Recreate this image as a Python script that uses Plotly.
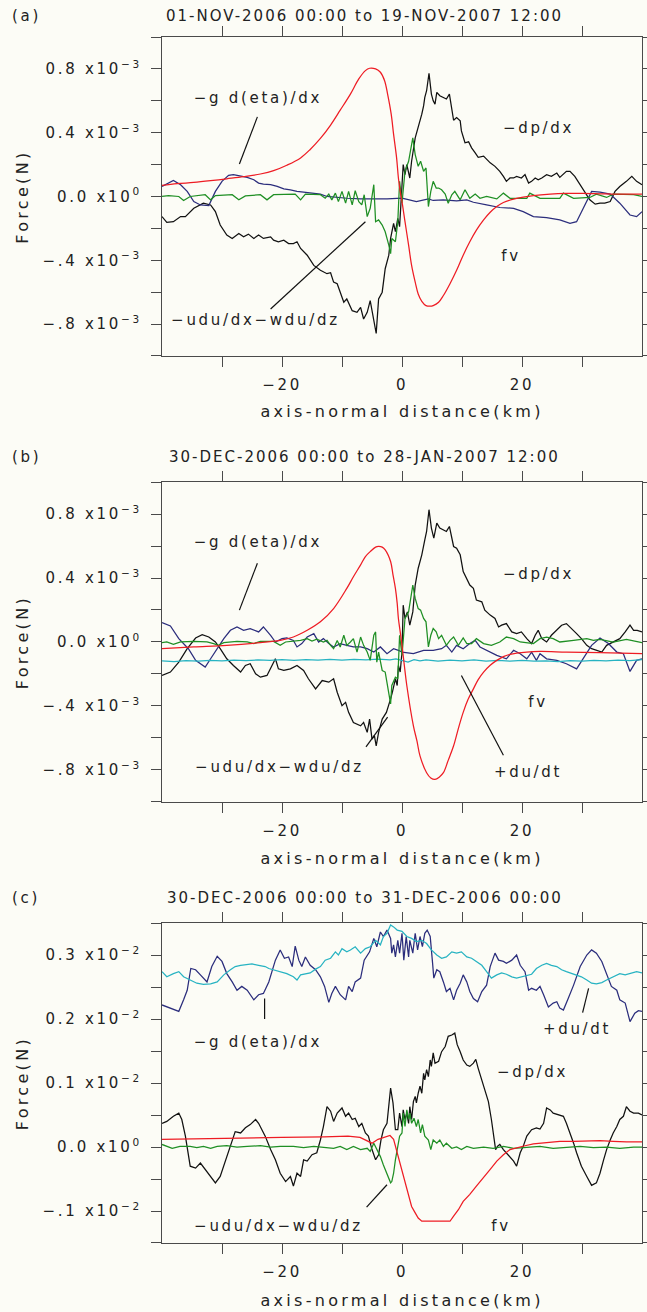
import plotly.graph_objects as go

# ---------------- DATA (x: axis-normal distance in km) ----------------
# Panel (a): values in units of 1e-3 N
a_fv = [(-40,0.069),(-37.5,0.08),(-34.7,0.088),(-31.9,0.099),(-29.2,0.111),(-26.4,0.124),(-23.6,0.141),
        (-21.4,0.162),(-19.2,0.196),(-16.9,0.242),(-15.3,0.295),(-13.6,0.364),(-11.9,0.448),(-10.3,0.541),
        (-8.6,0.642),(-7.2,0.737),(-6.1,0.789),(-5.4,0.804),(-4.4,0.8),(-3.6,0.779),(-2.9,0.726),(-2.4,0.642),
        (-1.8,0.516),(-1.4,0.389),(-0.9,0.242),(-0.6,0.116),(-0.3,0.032),(0,-0.032),(0.5,-0.158),(1.1,-0.305),
        (1.6,-0.432),(2.2,-0.537),(2.7,-0.611),(3.3,-0.657),(4.0,-0.684),(4.7,-0.688),(5.2,-0.684),(6.1,-0.663),
        (6.9,-0.621),(8.0,-0.547),(9.1,-0.463),(10.2,-0.368),(11.3,-0.284),(12.4,-0.211),(13.6,-0.147),
        (14.7,-0.099),(15.8,-0.063),(16.9,-0.038),(18.6,-0.017),(20.2,-0.004),(21.9,0.006),(24.7,0.015),
        (27.4,0.019),(30.2,0.019),(33.0,0.017),(35.8,0.015),(38.6,0.015),(40,0.015)]
a_dpdx = [(-40,-0.126),(-39.2,-0.162),(-38.1,-0.158),(-36.9,-0.126),(-36.1,-0.126),(-34.7,-0.074),(-33.1,-0.042),
          (-31.9,-0.053),(-31.1,-0.095),(-30.3,-0.179),(-29.2,-0.242),(-28.3,-0.263),(-27.2,-0.232),(-26.4,-0.253),
          (-25.6,-0.236),(-24.7,-0.263),(-23.9,-0.242),(-23.1,-0.263),(-21.9,-0.253),(-21.4,-0.274),(-20.6,-0.284),
          (-19.7,-0.274),(-18.9,-0.295),(-18.1,-0.295),(-17.5,-0.284),(-16.9,-0.326),(-15.8,-0.368),(-14.7,-0.432),
          (-13.6,-0.463),(-12.5,-0.484),(-11.9,-0.478),(-11.4,-0.537),(-10.8,-0.547),(-10.3,-0.6),(-9.7,-0.663),
          (-9.2,-0.642),(-8.3,-0.716),(-7.5,-0.726),(-6.9,-0.695),(-6.4,-0.768),(-5.8,-0.726),(-5.3,-0.653),
          (-4.7,-0.768),(-4.3,-0.859),(-3.9,-0.642),(-3.3,-0.6),(-2.8,-0.453),(-2.2,-0.368),(-1.9,-0.263),
          (-1.4,-0.168),(-1.1,-0.221),(-0.7,-0.137),(-0.4,-0.189),(-0.1,0.02),(0.2,0.2),(0.5,0.137),(0.8,0.2),
          (1.3,0.116),(1.6,0.221),(2.2,0.368),(2.7,0.432),(3.3,0.516),(3.6,0.568),(3.8,0.621),(4.1,0.663),
          (4.5,0.773),(4.9,0.642),(5.2,0.6),(5.5,0.579),(5.8,0.653),(6.3,0.632),(6.9,0.621),(7.4,0.611),
          (7.9,0.642),(8.3,0.558),(8.6,0.478),(9.1,0.495),(9.7,0.474),(9.9,0.411),(10.5,0.337),(11.1,0.343),
          (11.6,0.305),(12.2,0.274),(12.7,0.246),(13.6,0.253),(14.1,0.232),(14.7,0.211),(15.5,0.189),(16.3,0.158),
          (16.9,0.126),(17.4,0.095),(18.0,0.116),(18.6,0.116),(19.1,0.126),(19.9,0.116),(20.5,0.137),(21.1,0.084),
          (21.6,0.095),(22.2,0.116),(22.7,0.105),(23.3,0.116),(24.1,0.137),(24.9,0.126),(25.8,0.147),(26.3,0.12),
          (27.4,0.158),(28.0,0.158),(28.8,0.126),(29.7,0.074),(30.5,0.032),(31.3,-0.021),(32.2,-0.048),
          (33.0,-0.042),(33.8,-0.042),(34.7,-0.032),(35.5,0.032),(36.3,0.063),(37.4,0.095),(38.3,0.126),
          (39.1,0.095),(40,0.074)]
a_geta = [(-40,0.063),(-38.1,0.101),(-36.9,0.074),(-35.8,0.032),(-34.7,-0.032),(-33.6,-0.053),(-32.2,-0.057),
          (-31.1,0.032),(-30.0,0.095),(-28.9,0.133),(-28.1,0.137),(-26.9,0.126),(-25.8,0.12),(-24.7,0.105),
          (-23.9,0.084),(-23.1,0.078),(-21.9,0.074),(-20.8,0.063),(-19.7,0.048),(-18.6,0.042),(-17.5,0.032),
          (-16.4,0.027),(-15.3,0.021),(-13.6,0.015),(-12.5,0.0),(-10.8,-0.006),(-9.2,-0.011),(-6.9,-0.015),
          (-4.7,-0.017),(-2.5,-0.015),(0,-0.011),(2.4,-0.032),(4.4,-0.015),(5.2,-0.025),(6.9,-0.021),(9.1,-0.027),
          (10.8,-0.021),(11.9,-0.036),(14.1,-0.053),(16.3,-0.069),(18.6,-0.074),(20.2,-0.095),(21.9,-0.126),
          (24.1,-0.133),(26.3,-0.147),(28.0,-0.168),(29.1,-0.158),(30.8,-0.032),(31.6,0.032),(33.0,0.027),
          (34.7,0.015),(36.3,-0.042),(38.0,-0.116),(39.1,-0.126),(40,-0.095)]
a_adv = [(-40,0.0),(-38.9,0.006),(-37.2,0.0),(-36.4,-0.025),(-35.3,0.0),(-32.8,0.011),(-31.9,-0.021),(-31.1,0.006),
         (-28.3,0.011),(-27.2,-0.021),(-26.1,0.004),(-23.6,0.011),(-22.5,-0.021),(-21.4,0.011),(-17.8,0.015),
         (-16.9,-0.021),(-16.1,0.015),(-13.6,0.011),(-12.8,-0.011),(-12.2,0.015),(-11.7,-0.021),(-11.1,0.021),
         (-10.6,-0.032),(-10.0,0.032),(-9.4,-0.042),(-8.9,0.032),(-8.3,-0.053),(-7.8,0.036),(-7.2,-0.032),
         (-6.7,-0.053),(-6.3,0.011),(-5.8,-0.126),(-5.3,-0.074),(-4.7,0.074),(-4.4,-0.158),(-3.9,-0.147),
         (-3.3,-0.179),(-2.8,-0.221),(-2.2,-0.305),(-1.9,-0.358),(-1.7,-0.263),(-1.1,-0.284),(-0.7,-0.158),
         (-0.4,0.095),(0,-0.04),(0.5,0.158),(1.1,0.221),(1.8,0.368),(2.2,0.263),(2.7,0.189),(3.1,0.221),
         (3.6,0.158),(4.0,0.179),(4.4,-0.063),(4.8,0.032),(5.2,0.095),(5.7,0.053),(6.1,0.053),(6.6,0.042),
         (7.2,0.015),(7.7,-0.042),(8.3,0.011),(8.8,0.032),(9.7,-0.021),(10.5,0.042),(11.3,-0.011),(12.2,0.015),
         (13.0,-0.011),(14.1,0.0),(15.8,-0.015),(16.9,0.021),(18.0,-0.011),(20.8,-0.011),(21.3,0.021),
         (23.0,-0.011),(26.3,-0.011),(26.9,0.021),(28.6,-0.011),(31.3,-0.006),(32.4,0.015),(34.1,-0.006),
         (35.2,0.015),(38.6,0.011),(40,0.0)]

# Panel (b): values in units of 1e-3 N
b_fv = [(-40,-0.042),(-34.7,-0.031),(-29.2,-0.021),(-23.6,-0.004),(-20.3,0.01),(-18.1,0.031),(-15.8,0.073),
        (-13.6,0.126),(-11.4,0.209),(-9.2,0.335),(-8.1,0.408),(-6.9,0.482),(-6.1,0.534),(-5.3,0.565),
        (-4.4,0.593),(-3.9,0.597),(-3.3,0.593),(-2.8,0.576),(-1.9,0.503),(-1.5,0.419),(-1.1,0.335),(-0.8,0.241),
        (-0.6,0.147),(-0.3,0.063),(0,-0.021),(0.4,-0.15),(0.8,-0.272),(1.9,-0.524),(2.5,-0.62),(3.0,-0.712),
        (4.1,-0.817),(4.8,-0.85),(5.5,-0.859),(6.2,-0.845),(6.9,-0.817),(7.7,-0.74),(8.6,-0.649),(9.4,-0.54),
        (10.2,-0.44),(11.0,-0.36),(11.9,-0.293),(12.7,-0.235),(13.6,-0.188),(14.7,-0.145),(15.8,-0.115),
        (17.0,-0.09),(18.0,-0.077),(20.8,-0.063),(23.0,-0.059),(27.4,-0.063),(33.0,-0.067),(40,-0.073)]
b_dpdx = [(-40,-0.209),(-38.6,-0.188),(-37.2,-0.126),(-35.8,-0.042),(-34.4,0.025),(-33.3,0.046),(-32.2,0.031),
          (-31.1,0.0),(-30.3,-0.042),(-29.2,-0.105),(-28.1,-0.147),(-26.9,-0.188),(-26.1,-0.147),(-25.3,-0.136),
          (-24.4,-0.199),(-23.6,-0.22),(-22.5,-0.209),(-21.1,-0.105),(-20.6,-0.168),(-19.7,-0.178),(-18.6,-0.168),
          (-17.5,-0.147),(-16.4,-0.178),(-15.6,-0.23),(-14.4,-0.293),(-13.3,-0.241),(-12.2,-0.251),(-11.4,-0.23),
          (-10.8,-0.314),(-10.0,-0.398),(-9.4,-0.377),(-8.9,-0.44),(-8.1,-0.503),(-7.5,-0.513),(-6.9,-0.524),
          (-6.4,-0.503),(-5.8,-0.565),(-5.4,-0.482),(-5.0,-0.607),(-4.6,-0.586),(-4.3,-0.649),(-3.9,-0.565),
          (-3.3,-0.482),(-2.6,-0.44),(-2.2,-0.398),(-1.9,-0.356),(-1.6,-0.314),(-1.1,-0.23),(-0.8,-0.272),
          (-0.6,-0.147),(-0.3,-0.188),(0,-0.063),(0.2,0.23),(0.5,0.147),(0.9,0.188),(1.3,0.105),(1.8,0.188),
          (2.2,0.356),(2.7,0.461),(3.3,0.545),(3.8,0.639),(4.1,0.691),(4.5,0.827),(4.9,0.712),(5.3,0.649),
          (5.8,0.743),(6.3,0.712),(6.9,0.702),(7.4,0.691),(7.9,0.722),(8.3,0.66),(8.6,0.597),(9.1,0.586),
          (9.7,0.545),(10.2,0.44),(10.8,0.398),(11.3,0.356),(11.9,0.335),(12.4,0.262),(13.3,0.251),(13.8,0.199),
          (14.7,0.168),(15.5,0.147),(16.1,0.094),(16.6,0.105),(17.4,0.115),(18.3,0.063),(19.1,0.052),(19.9,0.063),
          (20.8,0.021),(21.6,-0.01),(22.2,0.042),(22.7,0.073),(23.3,0.021),(24.1,0.0),(24.9,0.042),(25.8,0.073),
          (26.6,0.105),(27.4,0.115),(28.3,0.084),(29.1,0.052),(29.9,0.021),(30.8,-0.021),(31.6,-0.042),
          (32.4,-0.052),(33.3,-0.063),(34.1,-0.021),(35.2,0.0),(36.3,0.021),(37.2,0.063),(38.0,0.105),
          (38.6,0.073),(39.2,0.073),(40,0.063)]
b_geta = [(-40,0.121),(-38.6,0.1),(-37.2,0.021),(-35.6,-0.042),(-34.4,-0.115),(-32.8,-0.157),(-31.9,-0.105),
          (-30.8,-0.042),(-29.7,0.021),(-28.6,0.073),(-27.5,0.094),(-26.4,0.073),(-25.3,0.084),(-23.9,0.063),
          (-23.1,0.094),(-21.9,0.042),(-21.1,0.0),(-20.0,0.021),(-19.2,0.025),(-18.1,0.01),(-17.5,-0.031),
          (-16.7,-0.01),(-15.8,0.031),(-14.7,0.052),(-13.9,0.0),(-13.1,0.021),(-12.2,-0.01),(-11.4,-0.031),
          (-10.3,-0.01),(-9.2,-0.021),(-8.1,-0.031),(-6.9,-0.031),(-5.8,-0.042),(-4.7,-0.063),(-3.6,-0.031),
          (-2.5,-0.073),(-1.4,-0.042),(-0.6,-0.052),(0,-0.063),(1.9,-0.073),(3.6,-0.052),(5.2,-0.052),
          (6.6,-0.042),(7.4,-0.021),(8.3,-0.063),(9.1,-0.021),(10.2,-0.042),(11.3,-0.01),(12.2,0.01),(13.0,-0.031),
          (14.1,-0.052),(15.8,-0.084),(17.4,-0.105),(18.6,-0.052),(19.7,-0.073),(20.8,-0.105),(21.6,-0.063),
          (22.4,-0.115),(23.0,-0.073),(24.1,-0.105),(25.8,-0.115),(27.4,-0.136),(29.1,-0.168),(30.2,-0.105),
          (31.6,-0.021),(33.0,0.025),(34.4,-0.01),(35.8,-0.063),(36.9,-0.073),(38.0,-0.184),(39.1,-0.115),
          (40,-0.105)]
b_adv = [(-40,-0.004),(-39.2,0.0),(-38.1,-0.015),(-36.9,0.0),(-34.7,0.004),(-32.5,0.0),(-31.4,-0.01),
         (-30.6,-0.021),(-29.7,-0.004),(-27.5,0.004),(-25.8,0.0),(-24.7,-0.01),(-23.6,0.004),(-21.4,0.004),
         (-20.3,-0.021),(-19.4,0.0),(-16.9,0.01),(-15.8,0.021),(-15.0,0.006),(-14.2,0.017),(-13.1,0.0),
         (-12.5,0.01),(-11.9,-0.021),(-11.4,-0.042),(-10.8,0.01),(-10.3,-0.031),(-9.7,0.042),(-9.2,-0.021),
         (-8.6,0.0),(-8.1,0.021),(-7.5,-0.063),(-6.9,0.031),(-6.4,-0.021),(-5.8,-0.063),(-5.3,-0.115),
         (-4.7,0.042),(-4.4,0.063),(-4.2,-0.126),(-3.9,-0.063),(-3.3,-0.178),(-2.8,-0.188),(-2.2,-0.314),
         (-1.9,-0.387),(-1.7,-0.272),(-1.1,-0.22),(-0.7,-0.23),(-0.4,0.042),(0,-0.084),(0.5,0.147),(1.1,0.188),
         (1.8,0.356),(2.2,0.272),(2.7,0.209),(3.1,0.199),(3.6,0.147),(4.0,0.126),(4.4,-0.031),(4.8,0.042),
         (5.2,0.084),(5.7,0.063),(6.1,0.021),(6.6,0.042),(7.4,-0.021),(8.0,0.01),(8.6,0.031),(9.4,-0.021),
         (10.2,0.025),(10.8,-0.01),(11.6,-0.01),(12.4,0.021),(13.6,-0.01),(14.9,-0.021),(16.3,0.0),(17.4,0.031),
         (18.6,0.021),(19.7,0.0),(20.8,-0.006),(21.9,-0.01),(23.0,0.021),(24.1,0.031),(25.2,0.021),(26.3,0.0),
         (28.6,0.01),(30.8,0.021),(31.9,0.01),(33.0,0.017),(35.2,0.0),(37.4,0.017),(40,-0.004)]
b_dudt = [(-40,-0.118),(-38,-0.122),(-36,-0.117),(-34,-0.12),(-32,-0.115),(-30,-0.118),(-28,-0.113),(-26,-0.117),
          (-24,-0.112),(-22,-0.115),(-20,-0.11),(-18,-0.115),(-16,-0.11),(-14,-0.114),(-12,-0.108),(-10,-0.113),
          (-8,-0.108),(-6,-0.112),(-4,-0.107),(-2,-0.112),(-1,-0.105),(0,-0.113),(1,-0.125),(2,-0.11),
          (3,-0.118),(4,-0.112),(6,-0.12),(8,-0.113),(10,-0.118),(12,-0.112),(14,-0.12),(16,-0.115),(18,-0.12),
          (20,-0.115),(22,-0.12),(24,-0.118),(26,-0.122),(28,-0.117),(30,-0.12),(32,-0.115),(34,-0.118),
          (36,-0.113),(38,-0.117),(40,-0.11)]

# Panel (c): values in units of 1e-2 N
c_fv = [(-40,0.012),(-30,0.014),(-20,0.015),(-13,0.016),(-9,0.017),(-7,0.015),(-5.5,0.008),(-5,0.006),
        (-4,0.012),(-3,0.015),(-2,0.018),(-1.4,0.012),(-0.8,-0.009),(-0.3,-0.03),(0,-0.04),(0.5,-0.056),
        (1.1,-0.077),(1.6,-0.093),(2.2,-0.103),(2.7,-0.111),(3.3,-0.116),(3.8,-0.116),(4.7,-0.115),(5.8,-0.116),
        (6.9,-0.116),(8.0,-0.116),(8.6,-0.108),(9.4,-0.098),(10.2,-0.085),(11.3,-0.074),(12.4,-0.061),
        (13.6,-0.048),(14.7,-0.035),(15.8,-0.022),(16.9,-0.012),(18.0,-0.004),(19.1,-0.001),(20.5,0.002),
        (21.9,0.005),(24.1,0.007),(26.3,0.009),(28.6,0.009),(30.8,0.01),(33.0,0.01),(35.2,0.009),(37.4,0.008),
        (40,0.008)]
c_dpdx = [(-40,0.037),(-39.2,0.04),(-38.1,0.048),(-37.2,0.053),(-36.7,0.043),(-36.1,0.017),(-35.3,-0.03),
          (-34.4,-0.033),(-33.6,-0.025),(-32.8,-0.035),(-31.9,-0.046),(-31.1,-0.056),(-30.3,-0.046),(-29.4,-0.02),
          (-28.6,0.001),(-27.8,0.024),(-26.9,0.022),(-26.1,0.03),(-25.3,0.035),(-24.4,0.043),(-23.9,0.037),
          (-23.3,0.027),(-22.8,0.017),(-21.9,-0.004),(-21.1,-0.02),(-20.3,-0.041),(-19.4,-0.054),(-18.6,-0.046),
          (-18.1,-0.061),(-17.5,-0.041),(-16.9,-0.046),(-16.4,-0.02),(-15.8,-0.022),(-15.0,-0.012),(-14.2,-0.009),
          (-13.6,0.011),(-13.1,0.032),(-12.5,0.063),(-11.9,0.056),(-11.4,0.04),(-10.8,0.053),(-10.0,0.061),
          (-9.4,0.048),(-8.9,0.053),(-8.3,0.043),(-7.8,0.045),(-7.2,0.032),(-6.7,0.037),(-6.1,0.022),(-5.6,0.017),
          (-5.0,-0.004),(-4.4,-0.02),(-3.9,-0.012),(-3.5,0.011),(-3.1,0.027),(-2.5,0.037),(-1.9,0.092),
          (-1.5,0.069),(-1.1,0.027),(-0.7,0.027),(-0.4,0.053),(0,0.032),(0.2,0.058),(0.5,0.043),(0.8,0.053),
          (1.1,0.037),(1.3,0.063),(1.6,0.043),(1.9,0.071),(2.2,0.079),(2.4,0.069),(2.7,0.084),(3.0,0.095),
          (3.3,0.084),(3.6,0.115),(3.8,0.105),(4.1,0.121),(4.4,0.11),(4.7,0.136),(4.9,0.126),(5.2,0.147),
          (5.5,0.131),(6.1,0.134),(6.6,0.149),(7.2,0.157),(7.7,0.173),(8.3,0.175),(8.8,0.178),(9.2,0.16),
          (9.7,0.149),(10.2,0.136),(10.8,0.128),(11.3,0.126),(11.9,0.131),(12.3,0.137),(12.7,0.123),(13.3,0.105),
          (13.8,0.089),(14.4,0.071),(14.9,0.043),(15.3,0.014),(15.6,-0.004),(15.9,0.001),(16.3,0.004),
          (16.9,-0.004),(17.4,-0.009),(18.0,-0.015),(18.6,-0.022),(19.1,-0.03),(19.7,-0.009),(20.2,0.001),
          (20.8,0.017),(21.6,0.027),(22.4,0.03),(23.0,0.028),(23.6,0.037),(24.1,0.061),(24.7,0.058),(25.2,0.053),
          (26.1,0.05),(26.9,0.048),(27.4,0.037),(28.0,0.022),(28.6,0.006),(29.1,-0.009),(29.9,-0.03),
          (30.8,-0.046),(31.6,-0.06),(32.4,-0.056),(33.0,-0.041),(33.6,-0.02),(34.1,-0.004),(34.7,0.011),
          (35.2,0.022),(35.8,0.032),(36.3,0.043),(36.9,0.048),(37.4,0.063),(38.0,0.056),(38.6,0.053),
          (39.4,0.053),(40,0.05)]
c_geta = [(-40,0.222),(-38.6,0.217),(-37.2,0.212),(-36.4,0.23),(-35.8,0.245),(-35.2,0.279),(-34.4,0.277),
          (-33.6,0.269),(-32.5,0.258),(-31.7,0.282),(-30.8,0.298),(-30.0,0.29),(-29.2,0.271),(-28.3,0.258),
          (-27.5,0.245),(-26.7,0.251),(-25.8,0.245),(-24.7,0.23),(-23.9,0.238),(-23.1,0.24),(-22.2,0.258),
          (-21.1,0.292),(-20.3,0.308),(-19.6,0.295),(-18.9,0.297),(-18.3,0.282),(-17.8,0.314),(-17.2,0.292),
          (-16.7,0.282),(-16.1,0.297),(-15.3,0.284),(-14.4,0.277),(-13.6,0.266),(-12.9,0.251),(-12.2,0.226),
          (-11.7,0.24),(-11.1,0.251),(-10.3,0.238),(-9.4,0.23),(-8.9,0.251),(-8.3,0.243),(-7.8,0.258),
          (-6.9,0.264),(-6.3,0.292),(-5.4,0.305),(-4.7,0.326),(-4.2,0.313),(-3.6,0.336),(-3.1,0.329),
          (-2.5,0.339),(-1.9,0.326),(-1.7,0.303),(-1.4,0.316),(-1.1,0.297),(-0.7,0.323),(-0.4,0.303),(0,0.334),
          (0.3,0.292),(0.7,0.329),(1.1,0.297),(1.3,0.323),(1.8,0.303),(2.2,0.334),(2.6,0.308),(3.0,0.329),
          (3.4,0.313),(3.8,0.334),(4.2,0.339),(4.7,0.329),(5.1,0.287),(5.3,0.264),(5.8,0.277),(6.3,0.274),
          (6.9,0.258),(7.4,0.243),(8.0,0.248),(8.6,0.23),(9.1,0.245),(9.7,0.256),(10.2,0.269),(10.8,0.258),
          (11.3,0.243),(11.9,0.232),(12.6,0.227),(13.3,0.243),(14.1,0.253),(14.7,0.282),(15.5,0.303),(16.1,0.292),
          (16.9,0.29),(17.4,0.287),(18.3,0.292),(19.1,0.3),(19.7,0.284),(20.5,0.274),(21.1,0.245),(21.6,0.248),
          (22.4,0.245),(23.0,0.251),(23.6,0.238),(24.4,0.219),(25.2,0.225),(25.8,0.227),(26.3,0.217),
          (26.9,0.214),(27.7,0.232),(28.6,0.253),(29.7,0.282),(30.8,0.3),(31.6,0.308),(32.4,0.303),(33.3,0.29),
          (34.1,0.271),(34.9,0.251),(35.8,0.245),(36.3,0.23),(37.2,0.225),(38.0,0.196),(38.8,0.209),(39.4,0.213),
          (40,0.212)]
c_adv = [(-40,0.004),(-39.2,0.001),(-38.3,-0.002),(-37.0,0.001),(-35.3,0.001),(-34.2,-0.001),(-33.1,0.001),
         (-31.9,-0.002),(-30.8,0.001),(-29.2,0.002),(-27.5,0.0),(-25.8,0.001),(-23.6,0.002),(-21.9,0.0),
         (-20.3,0.001),(-18.1,0.001),(-16.4,-0.001),(-14.7,0.001),(-13.1,0.0),(-11.4,-0.002),(-10.3,0.001),
         (-9.2,-0.004),(-8.1,0.001),(-6.9,-0.004),(-5.8,-0.002),(-5.3,-0.007),(-4.7,0.006),(-4.2,-0.004),
         (-3.6,-0.015),(-3.1,-0.028),(-2.5,-0.041),(-1.9,-0.056),(-1.7,-0.054),(-1.4,-0.041),(-1.1,-0.02),
         (-0.7,0.001),(-0.4,0.017),(0,0.022),(0.2,0.053),(0.5,0.032),(0.8,0.058),(1.1,0.043),(1.3,0.053),
         (1.6,0.037),(2.0,0.045),(2.4,0.032),(2.7,0.043),(3.1,0.022),(3.4,0.035),(3.8,0.017),(4.4,0.011),
         (4.8,-0.004),(5.2,0.011),(5.8,0.006),(6.3,0.011),(6.9,0.001),(7.4,0.006),(8.3,-0.002),(9.1,0.0),
         (9.9,-0.004),(10.8,0.001),(11.9,-0.002),(13.6,0.0),(15.2,-0.002),(16.9,0.001),(18.6,-0.002),
         (20.8,0.0),(23.0,0.001),(25.2,-0.002),(27.4,0.0),(29.7,0.001),(31.9,-0.001),(34.1,0.0),(36.3,-0.002),
         (38.6,0.0),(40,0.0)]
c_dudt = [(-40,0.274),(-39.2,0.266),(-38.1,0.271),(-37.2,0.274),(-36.4,0.266),(-35.3,0.261),(-34.2,0.256),
          (-33.1,0.254),(-31.9,0.255),(-30.8,0.258),(-29.7,0.269),(-28.6,0.277),(-27.8,0.282),(-26.9,0.284),
          (-26.1,0.285),(-25.0,0.286),(-23.9,0.284),(-22.8,0.282),(-22.2,0.279),(-21.4,0.277),(-20.3,0.274),
          (-19.2,0.271),(-18.1,0.266),(-17.5,0.261),(-16.9,0.269),(-16.1,0.271),(-15.3,0.272),(-14.4,0.278),
          (-13.6,0.282),(-12.8,0.292),(-11.9,0.295),(-11.1,0.305),(-10.6,0.3),(-10.0,0.31),(-9.2,0.305),
          (-8.6,0.308),(-7.8,0.313),(-6.9,0.303),(-6.1,0.31),(-5.3,0.313),(-4.4,0.323),(-3.6,0.316),(-3.1,0.329),
          (-2.5,0.334),(-1.9,0.347),(-1.4,0.344),(-0.8,0.339),(0,0.337),(0.8,0.329),(1.6,0.326),(2.4,0.321),
          (3.3,0.323),(4.1,0.318),(4.9,0.308),(5.8,0.3),(6.6,0.295),(7.4,0.297),(8.3,0.305),(9.1,0.303),
          (9.9,0.305),(10.8,0.297),(11.6,0.295),(12.4,0.29),(13.3,0.284),(14.1,0.274),(14.9,0.264),(15.8,0.269),
          (16.6,0.272),(17.4,0.27),(18.3,0.266),(19.1,0.264),(19.9,0.266),(20.8,0.269),(21.6,0.27),(22.4,0.279),
          (23.3,0.284),(24.1,0.287),(24.9,0.284),(25.8,0.282),(26.6,0.277),(27.4,0.274),(28.3,0.271),
          (29.1,0.269),(29.9,0.266),(30.8,0.261),(31.6,0.256),(32.4,0.255),(33.3,0.257),(34.1,0.261),
          (35.2,0.266),(36.3,0.271),(37.2,0.269),(38.0,0.271),(39.1,0.274),(40,0.272)]

# Axis ticks / labels
x_tickvals = [-30, -20, -10, 0, 10, 20, 30]
x_ticktext = ["", "\u221220", "", "0", "", "20", ""]
ab_tickvals = [-1.0, -0.8, -0.6, -0.4, -0.2, 0.0, 0.2, 0.4, 0.6, 0.8, 1.0]   # x 1e-3
ab_ticktext = ["", "\u2212.8 x10<sup>\u22123</sup>", "", "\u2212.4 x10<sup>\u22123</sup>", "",
               "0.0 x10<sup>0</sup>", "", "0.4 x10<sup>\u22123</sup>", "", "0.8 x10<sup>\u22123</sup>", ""]
c_tickvals = [-0.15, -0.10, -0.05, 0.0, 0.05, 0.10, 0.15, 0.20, 0.25, 0.30, 0.35]  # x 1e-2
c_ticktext = ["", "\u2212.1 x10<sup>\u22122</sup>", "", "0.0 x10<sup>0</sup>", "", "0.1 x10<sup>\u22122</sup>", "",
              "0.2 x10<sup>\u22122</sup>", "", "0.3 x10<sup>\u22122</sup>", ""]
titles = ["01-NOV-2006 00:00 to 19-NOV-2007 12:00",
          "30-DEC-2006 00:00 to 28-JAN-2007 12:00",
          "30-DEC-2006 00:00 to 31-DEC-2006 00:00"]
panel_tags = ["(a)", "(b)", "(c)"]

# ---------------- STYLE ----------------
BG = "#fcfcf6"
FRAME = "#4a4a4a"
TXT = "#222222"
C_BLACK = "#111111"
C_NAVY = "#2b2d7c"
C_GREEN = "#1f8f24"
C_RED = "#ee1c24"
C_CYAN = "#27b3c2"
FONT = "DejaVu Sans"
LW = 1.25

fig = go.Figure()

def add_series(pairs, scale, color, xa, ya, shape="linear"):
    fig.add_trace(go.Scatter(x=[p[0] for p in pairs], y=[p[1] * scale for p in pairs],
                             mode="lines", line=dict(color=color, width=LW, shape=shape),
                             xaxis=xa, yaxis=ya, showlegend=False, hoverinfo="skip"))

E3, E2 = 1e-3, 1e-2
add_series(a_dpdx, E3, C_BLACK, "x", "y")
add_series(a_geta, E3, C_NAVY, "x", "y")
add_series(a_adv, E3, C_GREEN, "x", "y")
add_series(a_fv, E3, C_RED, "x", "y", "spline")

add_series(b_dpdx, E3, C_BLACK, "x2", "y2")
add_series(b_geta, E3, C_NAVY, "x2", "y2")
add_series(b_dudt, E3, C_CYAN, "x2", "y2")
add_series(b_adv, E3, C_GREEN, "x2", "y2")
add_series(b_fv, E3, C_RED, "x2", "y2", "spline")

add_series(c_geta, E2, C_NAVY, "x3", "y3")
add_series(c_dudt, E2, C_CYAN, "x3", "y3")
add_series(c_dpdx, E2, C_BLACK, "x3", "y3")
add_series(c_adv, E2, C_GREEN, "x3", "y3")
add_series(c_fv, E2, C_RED, "x3", "y3")

axis_common = dict(showline=True, linecolor=FRAME, linewidth=1.3, mirror="ticks", ticks="outside",
                   ticklen=10, tickwidth=1.3, tickcolor=FRAME, showgrid=False, zeroline=False,
                   automargin=False, tickfont=dict(family=FONT, size=15, color=TXT))

domains = [[0.7355, 1.0], [0.3657, 0.631], [0.0, 0.2653]]
yranges = [[-1e-3, 1e-3], [-1e-3, 1e-3], [-1.5e-3, 3.5e-3]]
ytv = [[v * E3 for v in ab_tickvals], [v * E3 for v in ab_tickvals], [v * E2 for v in c_tickvals]]
ytt = [ab_ticktext, ab_ticktext, c_ticktext]

layout = dict(width=647, height=1312, paper_bgcolor=BG, plot_bgcolor=BG,
              margin=dict(l=162, r=5, t=37, b=69, autoexpand=False), showlegend=False,
              font=dict(family=FONT, size=15, color=TXT))
for i in range(3):
    sx = "" if i == 0 else str(i + 1)
    layout["xaxis" + sx] = dict(axis_common, domain=[0, 1], range=[-40, 40], anchor="y" + sx,
                                tickvals=x_tickvals, ticktext=x_ticktext, ticklabelstandoff=5)
    layout["yaxis" + sx] = dict(axis_common, domain=domains[i], range=yranges[i], anchor="x" + sx,
                                tickvals=ytv[i], ticktext=ytt[i], ticklabelstandoff=6)
fig.update_layout(**layout)

def ypx(py):
    return (1243 - py) / 1206.0

def xpx(px):
    return (px - 162) / 480.0

ann = []
title_y = [16, 456.7, 898.3]
panel_mid = [196.5, 642, 1083]
xtitle_y = [412, 858.3, 1300]
CM = dict(xanchor="center", yanchor="middle", showarrow=False)
for i in range(3):
    ann.append(dict(CM, text=panel_tags[i], x=xpx(26), y=ypx(title_y[i]), xref="paper", yref="paper",
                    font=dict(size=15)))
    ann.append(dict(CM, text=titles[i], x=xpx(364.5), y=ypx(title_y[i]), xref="paper", yref="paper",
                    font=dict(size=15)))
    ann.append(dict(CM, text="Force(N)", x=xpx(22), y=ypx(panel_mid[i]), xref="paper", yref="paper",
                    textangle=-90, font=dict(size=16)))
    ann.append(dict(CM, text="axis-normal distance(km)", x=xpx(402), y=ypx(xtitle_y[i]), xref="paper",
                    yref="paper", font=dict(size=16)))

# in-plot labels (data coordinates)
labels = [
    ("x", "y", "\u2212g d(eta)/dx", -24.0, 0.619e-3),
    ("x", "y", "\u2212dp/dx", 22.8, 0.43e-3),
    ("x", "y", "fv", 18.1, -0.372e-3),
    ("x", "y", "\u2212udu/dx\u2212wdu/dz", -24.5, -0.773e-3),
    ("x2", "y2", "\u2212g d(eta)/dx", -24.0, 0.627e-3),
    ("x2", "y2", "\u2212dp/dx", 22.7, 0.424e-3),
    ("x2", "y2", "fv", 22.7, -0.376e-3),
    ("x2", "y2", "+du/dt", 21.0, -0.815e-3),
    ("x2", "y2", "\u2212udu/dx\u2212wdu/dz", -20.5, -0.784e-3),
    ("x3", "y3", "\u2212g d(eta)/dx", -24.0, 0.1645e-2),
    ("x3", "y3", "+du/dt", 29.2, 0.185e-2),
    ("x3", "y3", "\u2212dp/dx", 21.7, 0.118e-2),
    ("x3", "y3", "fv", 16.5, -0.124e-2),
    ("x3", "y3", "\u2212udu/dx\u2212wdu/dz", -20.6, -0.124e-2),
]
for xr, yr, t, x, y in labels:
    ann.append(dict(CM, text=t, x=x, y=y, xref=xr, yref=yr, font=dict(size=15)))
fig.update_layout(annotations=ann)

pointers = [
    ("x", "y", -24.1, 0.499e-3, -27.1, 0.204e-3),
    ("x", "y", -21.9, -0.705e-3, -6.1, -0.158e-3),
    ("x2", "y2", -24.1, 0.492e-3, -27.1, 0.199e-3),
    ("x2", "y2", 9.9, -0.209e-3, 16.9, -0.708e-3),
    ("x2", "y2", -6.0, -0.655e-3, -2.4, -0.47e-3),
    ("x3", "y3", -22.9, 0.232e-2, -22.9, 0.2e-2),
    ("x3", "y3", 31.1, 0.248e-2, 30.1, 0.21e-2),
    ("x3", "y3", -5.9, -0.094e-2, -2.5, -0.059e-2),
]
fig.update_layout(shapes=[dict(type="line", xref=xr, yref=yr, x0=x0, y0=y0, x1=x1, y1=y1,
                               line=dict(color=C_BLACK, width=1.2)) for xr, yr, x0, y0, x1, y1 in pointers])

post = """
document.body.style.margin = '0';
document.body.style.padding = '0';
document.body.style.background = '#fcfcf6';
var gd = document.getElementById('{plot_id}');
function spaceText(){
  gd.querySelectorAll('text').forEach(function(t){
    var fs = parseFloat(t.style.fontSize || window.getComputedStyle(t).fontSize);
    var s = t.textContent || '';
    var ls = 2.7;
    if (s.indexOf(' to ') >= 0) { ls = 2.0; }
    else if (fs >= 16) { ls = 3.3; }
    t.style.letterSpacing = ls + 'px';
  });
}
spaceText();
if (gd.on) { gd.on('plotly_afterplot', spaceText); }
"""
fig.write_html("out.html", post_script=post, config={"displayModeBar": False})
